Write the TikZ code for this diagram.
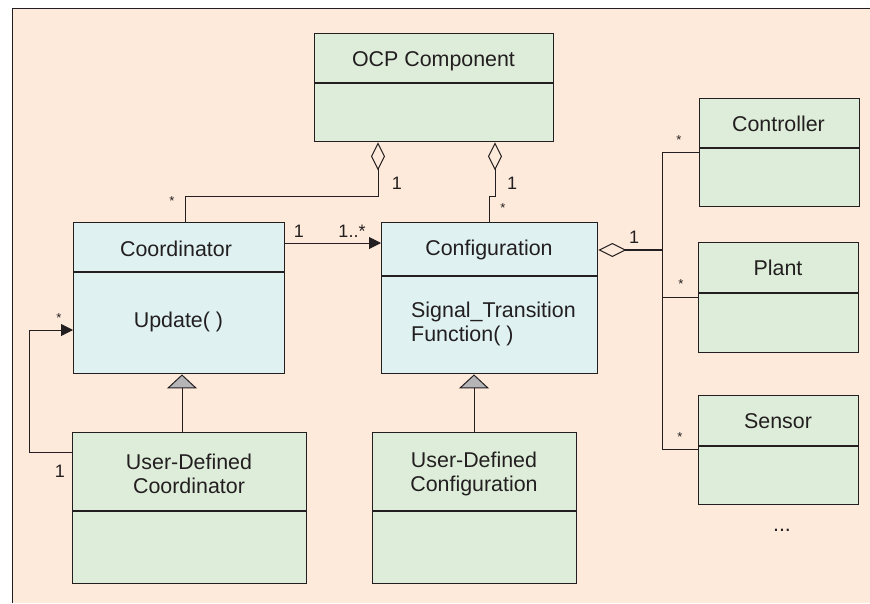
\documentclass[tikz,border=0pt]{standalone}
\usepackage{fontspec}
\setmainfont{Liberation Sans}
\usetikzlibrary{arrows.meta}
\definecolor{paper}{RGB}{253,234,218}
\definecolor{classgreen}{RGB}{222,237,218}
\definecolor{classcyan}{RGB}{223,241,241}
\definecolor{ink}{RGB}{35,31,32}
\definecolor{gengray}{RGB}{181,181,184}

\begin{document}
\begin{tikzpicture}[x=1pt, y=-1pt,
		classbox/.style = {draw=ink, line width=1.4pt, inner sep=0pt, anchor=north west},
		classname/.style = {text=ink, font=\fontsize{21.4}{24}\selectfont, align=center, inner sep=0pt},
		mult/.style = {text=ink, font=\fontsize{18}{20}\selectfont, inner sep=0pt},
		star/.style = {text=ink, font=\fontsize{13}{15}\selectfont, inner sep=0pt},
		link/.style = {draw=ink, line width=1pt},
		agg/.style = {link, {Diamond[open, length=28pt, width=14pt, line width=1pt]}-},
		nav/.style = {link, -{Triangle[length=12pt, width=12pt]}},
		gen/.style = {link, -{Triangle[fill=gengray, length=14pt, width=30pt, line width=1pt]}}]
		\useasboundingbox (0,0) rectangle (870,603);
		\fill[paper] (12,8) rectangle (870,603);
		\draw[ink, line width=1pt] (12,603) -- (12,8) -- (870,8);

		% class boxes
		\node[classbox, fill=classgreen, minimum width=239pt, minimum height=108pt] (ocp) at (314,33) {};
		\node[classbox, fill=classcyan, minimum width=211pt, minimum height=151pt] (coord) at (73,222) {};
		\node[classbox, fill=classcyan, minimum width=216pt, minimum height=151pt] (conf) at (381,222) {};
		\node[classbox, fill=classgreen, minimum width=234pt, minimum height=151pt] (udcoord) at (72,432) {};
		\node[classbox, fill=classgreen, minimum width=204pt, minimum height=151pt] (udconf) at (372,432) {};
		\node[classbox, fill=classgreen, minimum width=160pt, minimum height=108pt] (ctrl) at (699,98) {};
		\node[classbox, fill=classgreen, minimum width=160pt, minimum height=110pt] (plant) at (698,242) {};
		\node[classbox, fill=classgreen, minimum width=160pt, minimum height=109pt] (sens) at (698,395) {};

		% compartment lines
		\draw[ink, line width=1.2pt] (ocp.west |- 0,83) -- (ocp.east |- 0,83);
		\draw[ink, line width=1.2pt] (coord.west |- 0,272) -- (coord.east |- 0,272);
		\draw[ink, line width=1.2pt] (conf.west |- 0,276) -- (conf.east |- 0,276);
		\draw[ink, line width=1.2pt] (udcoord.west |- 0,511) -- (udcoord.east |- 0,511);
		\draw[ink, line width=1.2pt] (udconf.west |- 0,511) -- (udconf.east |- 0,511);
		\draw[ink, line width=1.2pt] (ctrl.west |- 0,148) -- (ctrl.east |- 0,148);
		\draw[ink, line width=1.2pt] (plant.west |- 0,293) -- (plant.east |- 0,293);
		\draw[ink, line width=1.2pt] (sens.west |- 0,446) -- (sens.east |- 0,446);

		% names and operations
		\node[classname] (ocpname) at (433.5,61) {OCP Component};
		\node[classname] (coordname) at (176,249) {Coordinator};
		\node[classname] (coordop) at (178.5,322) {Update( )};
		\node[classname] (confname) at (489,250) {Configuration};
		\node[classname, align=left, anchor=west] (confop) at (411,323.5) {Signal\_Transition\\Function( )};
		\node[classname] (udcoordname) at (189,474) {User-Defined\\Coordinator};
		\node[classname] (udconfname) at (474,474) {User-Defined\\Configuration};
		\node[classname] (ctrlname) at (778.5,124) {Controller};
		\node[classname] (plantname) at (778,268) {Plant};
		\node[classname] (sensname) at (778,421) {Sensor};
		\node[classname] (more) at (782,530) {...};

		% aggregations into OCP Component
		\draw[agg] (ocp.south -| 378,0) -- (378,196) -- (185,196) -- (coord.north -| 185,0);
		\draw[agg] (ocp.south -| 495,0) -- (495,196) -- (489,196) -- (conf.north -| 489,0);
		\node[mult] (m1) at (397,183) {1};
		\node[star] (m2) at (172,201) {*};
		\node[mult] (m3) at (512,183) {1};
		\node[star] (m4) at (503,208) {*};

		% coordinator to configuration
		\draw[nav] (coord.east |- 0,243) -- (conf.west |- 0,243);
		\node[mult] (m5) at (299,231) {1};
		\node[mult] (m6) at (352,231) {1..*};

		% self association through the user-defined coordinator
		\draw[nav] (udcoord.west |- 0,452) -- (29,452) -- (29,330) -- (coord.west |- 0,330);
		\node[star] (m7) at (59,318) {*};
		\node[mult] (m8) at (60,471) {1};

		% generalisations
		\draw[gen] (udcoord.north -| 182,0) -- (coord.south -| 182,0);
		\draw[gen] (udconf.north -| 474,0) -- (conf.south -| 474,0);

		% configuration parts
		\draw[agg, line width=1.8pt] (conf.east |- 0,250) -- (662,250);
		\draw[link] (ctrl.west |- 0,152) -- (662,152) -- (662,449) -- (sens.west |- 0,449);
		\draw[link] (plant.west |- 0,297) -- (662,297);
		\node[mult] (m9) at (634,237) {1};
		\node[star] (m10) at (679,140) {*};
		\node[star] (m11) at (681,284) {*};
		\node[star] (m12) at (680,437) {*};
\end{tikzpicture}
\end{document}
